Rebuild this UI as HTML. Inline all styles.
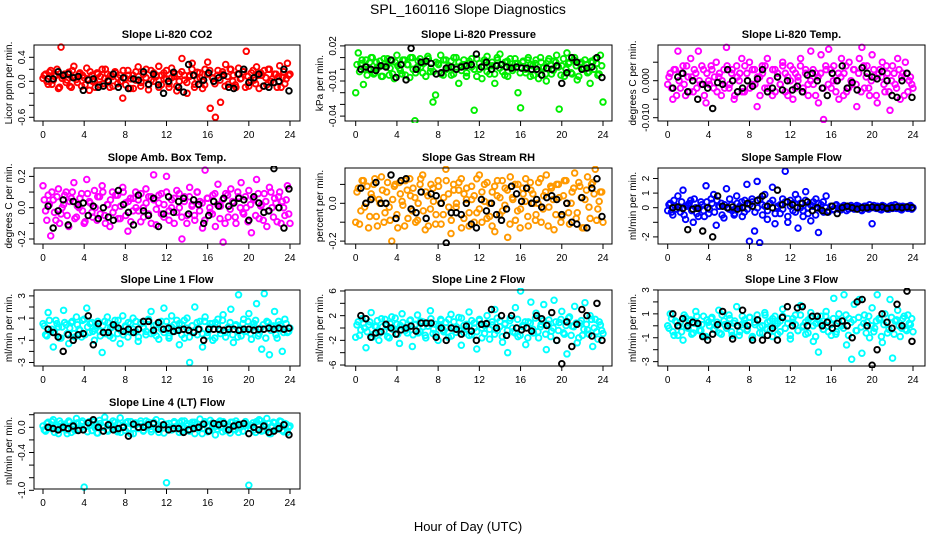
<!DOCTYPE html>
<html><head><meta charset="utf-8"><style>
html,body{margin:0;padding:0;background:#fff;}
svg{display:block;font-family:"Liberation Sans",Arial,sans-serif;}
</style></head><body>
<svg id="c" width="936" height="540" viewBox="0 0 936 540" xmlns="http://www.w3.org/2000/svg">
<text x="468" y="14" text-anchor="middle" font-size="14">SPL_160116  Slope Diagnostics</text>
<text x="468" y="531" text-anchor="middle" font-size="13">Hour of Day (UTC)</text>
</svg>
<script>
const xTicks=[0,4,8,12,16,20,24];
const co2Col=[0.05,0.12,-0.05,0.18,0.02,0.1,-0.12,0.57,0.08,-0.02,0.15,-0.1,0.25,0.03,0.12,-0.08,0.06,0.22,-0.15,0.1,0.0,0.14,-0.06,0.2,0.05,0.12,-0.1,0.08,0.16,-0.04,0.1,-0.28,0.05,0.18,-0.12,0.1,0.02,0.24,-0.08,0.12,0.06,-0.14,0.18,0.0,0.1,0.25,-0.06,0.14,0.04,-0.1,0.22,0.08,-0.16,0.12,0.38,0.02,-0.2,0.1,0.3,-0.05,0.15,0.06,-0.12,0.2,0.32,-0.45,0.05,-0.6,0.18,-0.35,0.12,0.28,-0.05,0.2,0.1,-0.1,0.22,0.05,0.16,0.5,-0.08,0.14,0.02,0.24,-0.12,0.1,0.18,-0.06,0.2,0.04,0.12,-0.1,0.26,0.06,-0.04,0.3,0.12];
const co2Core=[0.1,0.0,0.15,-0.05,0.08,0.2,-0.1,0.05,0.12,0.02,-0.08,0.18,0.06,-0.02,0.14,0.1,-0.06,0.04,0.16,0.0,-0.1,0.12,0.08,-0.04,0.2,0.02,0.1,-0.08,0.14,0.06,0.0,0.18,-0.06,0.1,0.04,-0.12,0.16,0.08,-0.02,0.12,0.2,-0.06,0.02,0.14,0.08,-0.1,0.1,0.04,0.18,-0.04,0.06,0.12,-0.08,0.0,0.16,0.1,-0.02,0.08,0.2,-0.1,0.04,0.14,0.0,-0.06,0.12,0.18,0.06,-0.04,0.1,0.02,0.16,-0.08,0.08,0.2,0.0,-0.06,0.12,0.04,0.16,-0.1,0.08,0.02,0.18,-0.04,0.1,0.14,-0.08,0.06,0.2,0.0,-0.02,0.12,0.08,-0.1,0.16,0.04,0.1];
const co2Blk=[0.04,0.04,0.16,0.1,0.12,0.06,0.08,-0.15,0.02,0.04,-0.1,-0.08,0.0,0.12,-0.1,0.06,-0.12,0.04,0.02,0.16,-0.05,0.12,-0.06,-0.2,0.0,0.15,-0.1,-0.18,0.28,0.1,-0.05,0.02,0.14,0.0,0.06,0.1,-0.1,-0.12,0.12,0.2,-0.02,0.06,0.12,-0.08,-0.1,-0.02,0.0,0.2,-0.16];
const presCol=[-0.02,0.014,0.005,-0.013,0.008,0.0,0.01,-0.004,0.006,0.002,-0.006,0.009,0.003,-0.005,0.007,-0.008,0.012,0.001,-0.004,0.008,0.004,-0.007,0.01,-0.044,0.002,0.009,-0.003,0.006,0.011,-0.002,-0.028,-0.022,0.005,0.012,-0.005,0.008,0.001,0.007,-0.004,0.01,-0.012,0.003,0.008,-0.006,0.005,0.002,-0.035,0.009,0.0,-0.008,0.006,0.011,-0.004,0.003,-0.012,0.008,0.013,-0.002,0.006,-0.006,0.009,0.001,0.005,-0.02,-0.033,0.007,-0.003,0.01,0.004,-0.005,0.008,-0.008,0.006,0.002,-0.01,0.009,-0.004,0.007,0.012,-0.034,0.003,-0.006,0.014,0.006,-0.004,0.01,-0.009,0.005,0.001,0.008,-0.003,-0.012,0.006,0.009,-0.005,0.012,-0.028];
const presCore=[0.004,-0.002,0.008,0.0,-0.005,0.006,0.01,-0.003,0.002,0.007,-0.006,0.005,0.009,0.001,-0.004,0.006,0.003,-0.001,0.008,-0.005,0.004,0.01,0.0,-0.003,0.007,0.002,0.005,-0.006,0.009,0.001,-0.002,0.006,0.004,-0.004,0.008,0.0,0.003,-0.005,0.01,0.002,0.006,-0.001,0.004,-0.003,0.007,0.009,0.0,-0.006,0.005,0.002,0.008,-0.002,0.003,0.006,-0.004,0.01,0.001,0.004,-0.005,0.007,0.002,-0.001,0.009,0.005,-0.003,0.006,0.0,0.008,-0.006,0.003,0.005,-0.002,0.01,0.001,-0.004,0.007,0.004,-0.001,0.006,0.002,-0.005,0.009,0.0,0.005,-0.003,0.008,0.003,-0.006,0.006,0.001,0.004,-0.002,0.007,0.0,0.005,-0.004,0.003];
const presBlk=[0.0,0.002,0.0,-0.001,0.003,0.002,0.008,-0.007,0.004,-0.009,0.018,0.0,0.006,0.007,0.005,-0.004,-0.003,0.001,0.002,0.0,0.002,0.003,0.004,0.013,0.002,0.006,0.0,0.003,0.004,0.002,0.001,0.002,0.001,0.001,0.0,0.0,-0.005,0.001,0.0,0.003,-0.012,-0.003,0.01,0.006,0.0,0.001,0.002,0.01,-0.007];
const tempCol=[-0.001,0.002,-0.005,0.003,0.008,-0.002,0.004,-0.004,0.001,0.006,-0.003,0.002,0.008,-0.001,0.003,-0.006,0.0,0.004,-0.002,0.005,0.001,-0.004,0.003,0.009,-0.002,0.002,-0.005,0.004,0.0,0.006,-0.003,0.002,0.005,-0.001,0.003,-0.007,0.001,0.004,-0.002,0.006,0.0,-0.004,0.003,0.002,-0.001,0.005,-0.003,0.001,0.004,-0.005,0.002,0.0,0.006,-0.002,0.003,-0.004,0.008,-0.001,0.002,-0.006,0.007,-0.0105,0.003,0.0085,-0.002,0.004,0.0,-0.005,0.006,0.002,-0.003,0.005,-0.001,0.003,-0.007,0.006,0.009,-0.002,0.004,-0.004,0.007,0.001,-0.006,0.003,0.005,-0.003,0.002,-0.008,0.004,-0.001,0.006,-0.005,0.002,0.005,-0.003,0.001,-0.002];
const tempCore=[0.001,-0.002,0.003,-0.004,0.0,0.002,-0.001,0.004,-0.003,0.001,0.003,-0.002,0.0,0.004,-0.004,0.002,-0.001,0.003,0.001,-0.003,0.002,0.0,-0.002,0.004,-0.001,0.003,-0.004,0.001,0.002,-0.003,0.004,0.0,-0.002,0.003,-0.001,0.001,-0.004,0.002,0.004,-0.002,0.0,0.003,-0.003,0.001,-0.001,0.004,0.002,-0.004,0.0,0.003,-0.002,0.001,0.004,-0.003,0.002,-0.001,0.0,0.003,-0.004,0.001,0.002,-0.002,0.004,-0.001,0.003,0.0,-0.003,0.002,0.001,-0.004,0.004,-0.002,0.0,0.003,-0.001,0.002,-0.003,0.004,0.001,-0.002,0.0,0.003,-0.004,0.002,0.001,-0.001,0.004,-0.003,0.0,0.002,-0.002,0.003,0.001,-0.004,0.002,0.0,-0.001];
const tempBlk=[-0.002,0.001,0.002,-0.003,0.0,-0.005,-0.001,-0.002,-0.0075,-0.0005,-0.001,0.003,0.0,-0.003,-0.002,0.0,-0.0015,0.0005,0.003,-0.003,-0.002,0.001,-0.0025,0.0,-0.0025,-0.0015,-0.003,0.0015,0.002,0.0,-0.002,-0.004,0.002,0.0,0.004,-0.002,-0.0005,-0.0025,0.0035,0.002,0.001,0.0005,0.0025,0.0,-0.004,-0.0045,0.0,0.002,-0.0045];
const boxCol=[0.14,-0.02,0.08,-0.18,0.05,-0.08,0.12,-0.04,0.02,0.1,-0.12,0.06,0.16,-0.06,0.0,0.09,-0.1,0.18,0.04,-0.03,0.11,-0.08,0.07,0.14,-0.05,0.02,-0.12,0.1,0.0,0.08,-0.07,0.13,0.03,-0.15,0.06,-0.02,0.1,0.05,-0.09,0.0,0.12,-0.04,0.07,0.21,-0.11,0.03,0.09,-0.06,0.2,-0.02,0.05,-0.1,0.11,0.0,-0.2,0.07,-0.05,0.13,0.02,-0.08,0.1,0.04,-0.13,0.24,0.06,-0.03,0.08,-0.12,0.15,0.01,-0.22,0.09,-0.06,0.12,0.03,-0.1,0.07,0.16,-0.04,0.0,0.11,-0.16,0.05,0.18,-0.07,0.02,0.09,-0.12,0.13,0.0,0.06,-0.09,0.1,0.04,-0.05,0.14,-0.1];
const boxCore=[0.05,-0.08,0.02,0.1,-0.03,0.07,-0.1,0.0,0.08,-0.05,0.04,0.1,-0.07,0.01,0.06,-0.02,-0.09,0.09,0.03,-0.06,0.0,0.07,-0.04,0.1,-0.1,0.02,0.05,-0.03,0.08,-0.07,0.01,0.1,-0.05,0.04,-0.09,0.06,0.0,-0.02,0.09,-0.06,0.03,0.07,-0.1,0.05,-0.01,0.08,-0.04,0.02,0.1,-0.08,0.0,0.06,-0.03,0.09,-0.06,0.04,-0.1,0.07,0.01,-0.05,0.1,-0.02,0.03,-0.08,0.06,0.0,-0.04,0.09,0.02,-0.07,0.05,-0.1,0.08,-0.01,0.04,-0.06,0.1,0.0,-0.03,0.07,-0.09,0.02,0.06,-0.05,0.09,0.01,-0.08,0.04,-0.02,0.1,-0.06,0.03,0.07,-0.1,0.0,0.05,-0.04];
const boxBlk=[0.01,-0.13,-0.02,0.05,-0.11,0.04,0.02,0.03,-0.05,0.01,-0.07,0.0,-0.06,-0.08,0.11,0.02,-0.03,-0.11,0.08,-0.02,-0.05,0.06,-0.12,-0.04,0.07,-0.03,0.04,0.06,-0.04,0.05,0.02,-0.1,-0.05,0.04,0.01,0.06,0.01,0.03,0.06,0.05,-0.08,0.07,0.03,-0.03,-0.02,0.25,0.0,-0.13,0.12];
const rhCol=[-0.1,0.08,-0.04,0.12,0.0,-0.13,0.05,0.1,-0.07,0.02,0.14,-0.1,0.06,-0.02,-0.2,0.09,-0.06,0.11,0.01,-0.12,0.07,0.13,-0.04,0.03,-0.09,0.1,0.15,-0.14,0.04,-0.03,0.08,-0.11,0.12,0.0,-0.06,0.18,0.05,-0.16,0.1,-0.02,0.07,0.13,-0.08,0.02,-0.12,0.09,0.04,-0.05,0.15,-0.1,0.01,0.11,-0.07,0.06,-0.15,0.12,0.03,-0.04,0.08,-0.18,0.14,0.02,-0.09,0.1,-0.03,0.05,0.13,-0.12,0.07,0.0,-0.06,0.11,-0.1,0.04,0.15,-0.02,0.08,-0.14,0.1,0.03,-0.07,0.12,0.0,-0.11,0.06,0.16,-0.05,0.09,-0.13,0.02,0.14,-0.08,0.11,0.18,-0.03,0.06,-0.1];
const rhCore=[0.06,-0.11,0.12,-0.02,0.09,-0.07,0.03,0.13,-0.12,0.0,0.07,-0.05,0.11,-0.09,0.02,0.1,-0.13,0.05,-0.01,0.12,-0.08,0.04,0.08,-0.1,0.0,0.13,-0.04,0.06,-0.12,0.1,0.01,-0.06,0.09,-0.11,0.03,0.12,-0.02,-0.09,0.07,0.0,0.11,-0.13,0.05,0.08,-0.05,0.02,-0.1,0.13,-0.03,0.06,0.1,-0.08,0.0,-0.12,0.09,0.04,-0.06,0.12,-0.01,0.07,-0.11,0.03,0.1,-0.04,-0.13,0.08,0.01,-0.07,0.11,0.05,-0.09,0.0,0.13,-0.03,0.06,-0.12,0.09,0.02,-0.06,0.1,-0.1,0.04,0.12,-0.05,0.0,0.08,-0.08,0.11,0.03,-0.13,0.07,-0.02,0.1,0.05,-0.09,0.01,0.06];
const rhBlk=[0.08,0.0,0.02,0.11,0.0,0.0,0.15,-0.08,0.12,0.13,-0.03,-0.05,0.06,-0.08,0.05,0.04,0.0,-0.21,-0.05,-0.05,-0.06,0.0,-0.11,-0.13,0.02,-0.04,0.0,-0.06,-0.09,-0.03,0.09,0.05,0.01,0.08,0.0,0.02,-0.02,0.03,0.04,0.02,-0.06,0.0,-0.1,-0.11,0.03,-0.13,0.08,0.13,-0.07];
const sampCol=[-0.2,0.3,-0.5,0.1,0.8,-0.3,1.2,-0.8,0.2,0.5,-1.0,0.0,-0.6,0.4,-0.2,1.5,-0.4,0.6,0.9,-1.2,0.1,0.3,-0.7,1.3,-0.1,0.2,-0.5,0.8,0.0,0.4,-0.3,1.6,-2.3,0.6,-1.6,1.8,-2.4,0.2,0.9,-0.8,0.3,1.4,-1.1,0.1,-0.4,0.6,2.5,-1.0,0.5,-0.2,0.9,-1.4,0.3,-0.6,1.1,0.0,-0.9,0.4,0.6,-1.7,0.2,-0.3,0.8,-0.2,0.1,-0.15,0.2,-0.1,0.05,0.15,-0.2,0.1,0.0,-0.1,0.15,0.05,-0.2,0.1,-0.05,0.2,-1.1,0.0,0.1,-0.1,0.15,0.0,-0.1,0.1,-0.05,0.2,0.0,-0.1,0.1,0.05,-0.05,0.15,0.0];
const sampCore=[0.2,-0.3,0.5,-0.1,0.0,0.4,-0.5,0.1,0.3,-0.2,0.6,-0.4,0.0,0.2,-0.6,0.4,-0.1,0.3,-0.3,0.5,0.1,-0.5,0.2,0.0,0.6,-0.2,-0.4,0.3,0.1,-0.6,0.5,-0.1,0.2,0.4,-0.3,0.0,0.6,-0.5,0.1,-0.2,0.3,0.5,-0.4,0.0,0.2,-0.1,0.4,-0.6,0.1,0.3,-0.3,0.6,0.0,-0.2,0.5,-0.4,0.2,0.1,-0.5,0.3,-0.1,0.4,0.0,-0.3,0.1,-0.1,0.15,0.0,-0.15,0.1,0.05,-0.1,0.15,-0.05,0.0,0.1,-0.15,0.05,0.1,-0.1,0.0,0.15,-0.05,0.05,-0.15,0.1,0.0,-0.1,0.15,0.05,-0.05,0.1,-0.15,0.0,0.05,0.1,-0.1];
const sampBlk=[0.0,0.05,-0.05,-1.5,-0.1,-0.05,-1.6,0.0,-2.0,0.8,0.1,0.0,0.05,-0.1,0.0,0.3,0.1,0.5,0.8,0.1,0.0,1.2,0.2,0.4,0.2,0.0,0.3,0.4,-0.2,0.0,-0.2,-0.3,0.1,-0.4,0.0,0.1,0.0,-0.1,0.0,0.0,0.05,0.0,0.05,-0.05,0.0,0.05,0.0,0.05,0.0];
const l1Col=[0.5,-0.5,1.5,-0.2,-1.6,0.8,0.2,-0.8,1.7,0.4,-1.3,0.6,-0.4,1.1,0.0,-0.7,0.9,1.9,-0.3,0.6,-1.0,0.3,-0.2,-2.1,0.7,1.1,-0.6,0.2,0.8,-0.4,-1.3,1.2,0.3,-0.7,0.5,1.0,-0.2,-1.1,0.6,0.2,-0.5,0.9,1.6,-0.3,0.4,-0.9,0.7,1.9,0.0,-0.6,1.2,-0.2,0.8,-1.4,0.4,-0.8,1.0,-3.0,0.3,2.0,-0.5,0.7,-1.6,1.1,-0.3,0.5,-1.0,0.6,0.9,-0.4,1.3,-0.7,0.2,1.8,-1.2,0.4,3.1,-0.6,0.9,-0.2,1.4,-0.9,0.5,2.3,-0.4,-1.8,3.2,0.7,-2.3,0.2,1.6,-0.8,0.4,-2.0,0.9,-0.3,0.1];
const l1Core=[0.3,-0.6,0.8,0.0,-0.3,0.5,-0.8,0.2,0.6,-0.4,0.1,0.7,-0.7,0.4,-0.1,0.8,-0.5,0.2,0.5,-0.2,0.0,0.7,-0.6,0.3,-0.4,0.6,0.1,-0.8,0.4,0.8,-0.1,-0.5,0.2,0.6,-0.3,0.0,0.7,-0.7,0.5,0.1,-0.2,0.8,-0.4,0.3,-0.6,0.6,0.0,-0.3,0.7,-0.8,0.2,0.4,-0.1,0.5,-0.5,0.8,0.1,-0.7,0.3,-0.2,0.6,0.0,-0.4,0.7,-0.6,0.2,0.5,-0.8,0.4,-0.1,0.8,-0.3,0.1,0.6,-0.5,0.3,-0.7,0.0,0.5,-0.2,0.7,-0.4,0.2,0.8,-0.6,0.1,0.4,-0.8,0.6,-0.1,0.3,-0.5,0.7,0.0,-0.3,0.5,-0.2];
const l1Blk=[0.0,-0.3,-0.7,-2.0,-0.5,-1.0,-0.5,-0.4,1.2,-1.4,0.5,-0.3,-0.3,0.4,0.1,-0.2,0.0,-0.3,0.0,0.7,0.7,-0.1,0.6,0.0,0.1,-0.2,-0.1,0.0,-0.1,-0.3,0.0,-1.0,0.0,0.0,0.0,-0.1,0.0,0.0,-0.1,0.0,0.0,-0.1,0.0,0.0,0.1,0.0,0.1,0.0,0.1];
const l2Col=[-1.5,1.0,-0.3,0.8,-3.2,0.5,2.5,-1.0,0.2,-2.0,1.5,-0.5,0.4,-1.6,1.8,-0.2,0.6,-2.5,2.3,0.0,-0.8,1.2,-3.0,0.5,2.1,-0.6,1.0,-1.2,0.3,2.8,-0.9,0.6,-2.0,1.4,-0.3,0.9,-1.5,2.2,0.1,-0.7,1.7,-2.8,0.4,-0.2,2.6,-1.1,0.8,-3.4,1.2,0.0,-0.9,2.0,-1.8,0.5,3.0,-0.4,1.1,-2.3,0.7,-4.0,1.6,-0.6,3.3,-1.4,6.0,0.2,-2.7,1.0,4.2,-0.8,2.4,-1.6,0.6,3.8,-3.5,1.3,-0.5,4.5,-2.0,0.9,2.7,-1.0,-4.2,1.8,0.3,3.5,-2.4,0.8,-1.2,4.1,-0.3,2.0,-3.0,1.4,-1.8,0.5,-0.9];
const l2Core=[0.5,-1.2,1.5,0.0,-0.6,1.0,-1.5,0.3,1.2,-0.8,0.2,1.4,-1.4,0.7,-0.2,1.6,-1.0,0.4,0.9,-0.4,0.0,1.3,-1.1,0.6,-0.8,1.1,0.2,-1.6,0.8,1.5,-0.2,-1.0,0.4,1.2,-0.6,0.0,1.4,-1.3,1.0,0.2,-0.4,1.6,-0.8,0.6,-1.2,1.2,0.0,-0.6,1.4,-1.6,0.4,0.8,-0.2,1.0,-1.0,1.6,0.2,-1.4,0.6,-0.4,1.2,0.0,-0.8,1.4,-1.2,0.4,1.0,-1.6,0.8,-0.2,1.6,-0.6,0.2,1.2,-1.0,0.6,-1.4,0.0,1.0,-0.4,1.4,-0.8,0.4,1.6,-1.2,0.2,0.8,-1.6,1.2,-0.2,0.6,-1.0,1.4,0.0,-0.6,1.0,-0.4];
const l2Blk=[2.0,1.5,-1.5,-0.8,-0.6,0.6,0.0,-1.0,-0.3,0.0,0.3,-0.5,0.8,0.8,0.8,-1.5,0.0,-2.0,0.0,-0.2,-1.0,0.3,-0.5,-2.0,0.6,0.7,3.0,0.0,2.0,-1.2,2.0,0.0,-0.3,0.0,-0.5,2.0,1.5,0.4,2.5,-2.0,-5.8,1.0,-3.0,0.6,3.0,2.0,-1.3,4.0,-2.0];
const l3Col=[0.0,1.0,-0.5,0.4,-0.8,0.3,-1.2,0.7,-0.2,0.5,-0.6,1.2,0.1,-0.4,0.8,-0.9,0.3,0.6,-0.3,0.0,1.3,-0.7,0.4,-0.2,0.9,-0.5,0.2,1.6,-0.8,0.1,0.5,-0.4,0.7,-1.0,0.3,0.9,-0.6,0.0,1.1,-0.3,0.4,-0.9,0.8,0.2,-0.5,1.4,-0.2,0.6,-1.1,0.3,0.9,-0.4,1.7,0.0,-0.7,0.5,1.1,-1.3,0.2,-2.2,0.8,-0.3,1.2,0.4,-0.8,2.3,-0.5,1.0,0.0,2.6,-1.6,0.6,-2.8,1.8,-0.4,2.2,-2.3,0.9,0.3,-1.0,1.5,-0.2,2.6,0.5,-1.4,1.0,-0.6,2.2,-2.7,0.4,1.3,-0.9,0.6,-0.3,0.9,0.1,-0.5];
const l3Core=[-0.2,0.6,-0.8,0.3,0.0,-0.5,0.9,-0.1,0.4,-0.7,0.2,0.8,-0.4,0.1,-0.9,0.5,0.0,0.7,-0.3,0.3,-0.6,0.9,0.1,-0.2,0.6,-0.8,0.4,0.0,-0.5,0.8,0.2,-0.3,0.7,-0.9,0.1,0.5,-0.1,-0.6,0.9,0.3,-0.4,0.6,0.0,-0.7,0.4,0.8,-0.2,0.2,-0.8,0.6,0.1,-0.4,0.9,-0.1,0.3,-0.6,0.7,0.0,-0.9,0.5,0.2,-0.3,0.8,-0.5,0.1,0.6,-0.7,0.4,0.0,-0.2,0.9,-0.8,0.3,0.5,-0.4,0.7,-0.1,0.2,-0.6,0.8,0.0,-0.5,0.4,0.6,-0.9,0.1,0.3,-0.3,0.7,-0.7,0.5,0.0,-0.2,0.8,-0.4,0.2,0.6];
const l3Blk=[1.0,0.0,0.6,0.0,0.3,0.2,-0.9,-1.2,-0.7,0.1,1.2,0.0,-1.1,0.0,1.3,0.0,-1.2,0.5,-1.2,-0.8,-0.2,-1.2,0.7,1.6,0.0,1.5,1.6,0.0,0.8,0.8,0.0,0.3,-0.2,0.2,0.4,0.0,-1.0,2.0,2.2,0.0,-3.3,-2.0,1.0,0.3,-0.2,1.8,0.0,2.9,-1.3];
const l4Col=[0.02,-0.06,0.08,-0.02,0.12,0.0,-0.1,0.06,0.03,-0.04,0.1,-0.08,0.05,0.14,-0.03,0.07,-0.95,0.02,0.09,-0.05,0.04,-0.09,0.11,0.01,0.16,-0.04,0.06,0.0,0.08,-0.07,0.15,0.03,-0.05,0.09,-0.1,0.04,0.07,-0.02,0.1,-0.06,0.02,0.08,-0.03,0.05,0.12,-0.08,0.03,-0.01,-0.88,0.06,-0.04,0.09,0.0,0.07,-0.06,0.1,0.02,-0.03,0.08,-0.1,0.05,0.13,-0.02,0.06,-0.07,0.11,0.03,-0.12,0.07,0.0,0.09,-0.05,0.04,0.08,-0.03,0.1,-0.08,0.05,0.02,0.06,-0.92,0.03,-0.04,0.09,0.12,-0.06,0.05,0.14,-0.1,0.02,0.07,-0.03,0.1,-0.05,0.06,-0.08,0.02];
const l4Core=[-0.04,0.06,0.0,0.09,-0.08,0.03,0.1,-0.02,0.05,-0.1,0.08,0.01,-0.05,0.07,-0.03,0.1,0.02,-0.07,0.04,0.09,-0.01,-0.09,0.06,0.0,0.08,-0.06,0.03,0.1,-0.04,0.05,-0.08,0.02,0.07,-0.02,0.09,-0.1,0.04,0.0,0.06,-0.05,0.1,0.01,-0.07,0.08,-0.03,0.03,0.09,-0.09,0.05,0.0,-0.04,0.07,0.02,-0.08,0.1,-0.01,0.06,-0.06,0.04,0.08,-0.02,0.0,-0.1,0.09,0.03,-0.05,0.07,0.01,-0.03,0.1,-0.07,0.05,0.02,-0.09,0.08,-0.04,0.06,0.0,-0.06,0.09,0.03,-0.02,0.07,-0.08,0.04,0.1,-0.05,0.01,0.06,-0.1,0.08,-0.03,0.02,0.09,-0.07,0.05,0.0];
const l4Blk=[0.0,-0.02,-0.04,0.0,-0.02,0.02,-0.05,-0.04,0.07,0.12,0.0,-0.06,0.04,-0.04,-0.02,0.0,-0.14,0.05,0.0,0.0,0.04,0.06,-0.03,0.04,-0.04,-0.02,-0.02,-0.08,-0.04,-0.02,0.0,0.05,-0.06,0.06,0.04,0.06,-0.04,0.02,0.04,0.06,-0.1,0.0,-0.04,0.02,-0.08,-0.06,-0.02,0.04,-0.12];

const co2Ticks=[-0.6,-0.4,-0.2,0,0.2,0.4], co2Labels=["-0.6","","","0.0","","0.4"];
const presTicks=[-0.04,-0.03,-0.02,-0.01,0,0.01,0.02], presLabels=["-0.04","","","-0.01","","","0.02"];
const tempTicks=[-0.01,-0.005,0,0.005], tempLabels=["-0.010","","0.000",""];
const boxTicks=[-0.2,-0.1,0,0.1,0.2], boxLabels=["-0.2","","0.0","","0.2"];
const rhTicks=[-0.2,-0.1,0,0.1], rhLabels=["-0.2","","0.0",""];
const sampTicks=[-2,-1,0,1,2], sampLabels=["-2","","0","1","2"];
const l1Ticks=[-3,-2,-1,0,1,2,3], l1Labels=["-3","","-1","","1","","3"];
const l2Ticks=[-6,-4,-2,0,2,4,6], l2Labels=["-6","","-2","","2","","6"];
const l3Ticks=[-3,-2,-1,0,1,2,3], l3Labels=["-3","","-1","","1","","3"];
const l4Ticks=[-1.0,-0.8,-0.6,-0.4,-0.2,0,0.2], l4Labels=["-1.0","","","-0.4","","0.0",""];

const NS="http://www.w3.org/2000/svg";
const svg=document.getElementById('c');
function mk(tag,at,parent){const e=document.createElementNS(NS,tag);for(const k in at)e.setAttribute(k,at[k]);(parent||svg).appendChild(e);return e;}
const cols=[{l:34,r:300,x0:43,x24:290},{l:345,r:612,x0:355.7,x24:603},{l:658,r:925,x0:667.7,x24:913}];
const rows=[{t:45,b:121},{t:168,b:244},{t:290,b:366},{t:413,b:489}];
const panels=[
 {name:'co2',title:'Slope Li-820 CO2',ylab:'Licor ppm per min.',c:0,r:0,y0:81.3,k:60,col:'#ff0000',d:co2Col,d2:co2Core,bk:co2Blk,tk:co2Ticks,tl:co2Labels},
 {name:'pressure',title:'Slope Li-820 Pressure',ylab:'kPa per min.',c:1,r:0,y0:69.3,k:1170,col:'#00ee00',d:presCol,d2:presCore,bk:presBlk,tk:presTicks,tl:presLabels},
 {name:'temp',title:'Slope Li-820 Temp.',ylab:'degrees C per min.',c:2,r:0,y0:80.7,k:3700,col:'#ff00ff',d:tempCol,d2:tempCore,bk:tempBlk,tk:tempTicks,tl:tempLabels},
 {name:'amb-box-temp',title:'Slope Amb. Box Temp.',ylab:'degrees C per min.',c:0,r:1,y0:207.7,k:156.5,col:'#ff00ff',d:boxCol,d2:boxCore,bk:boxBlk,tk:boxTicks,tl:boxLabels},
 {name:'gas-stream-rh',title:'Slope Gas Stream RH',ylab:'percent per min.',c:1,r:1,y0:203.3,k:189,col:'#ff9900',d:rhCol,d2:rhCore,bk:rhBlk,tk:rhTicks,tl:rhLabels},
 {name:'sample-flow',title:'Slope Sample Flow',ylab:'ml/min per min.',c:2,r:1,y0:207.7,k:14.6,col:'#0000ff',d:sampCol,d2:sampCore,bk:sampBlk,tk:sampTicks,tl:sampLabels},
 {name:'line1-flow',title:'Slope Line 1 Flow',ylab:'ml/min per min.',c:0,r:2,y0:329.2,k:11.1,col:'#00ffff',d:l1Col,d2:l1Core,bk:l1Blk,tk:l1Ticks,tl:l1Labels},
 {name:'line2-flow',title:'Slope Line 2 Flow',ylab:'ml/min per min.',c:1,r:2,y0:328,k:6.17,col:'#00ffff',d:l2Col,d2:l2Core,bk:l2Blk,tk:l2Ticks,tl:l2Labels},
 {name:'line3-flow',title:'Slope Line 3 Flow',ylab:'ml/min per min.',c:2,r:2,y0:325.8,k:11.95,col:'#00ffff',d:l3Col,d2:l3Core,bk:l3Blk,tk:l3Ticks,tl:l3Labels},
 {name:'line4-flow',title:'Slope Line 4 (LT) Flow',ylab:'ml/min per min.',c:0,r:3,y0:427.3,k:63,col:'#00ffff',d:l4Col,d2:l4Core,bk:l4Blk,tk:l4Ticks,tl:l4Labels}
];
panels.forEach(p=>{
  const C=cols[p.c],R=rows[p.r];
  const g=mk('g',{});
  
  
  const xs=h=>C.x0+(C.x24-C.x0)*h/24;
  const ys=v=>p.y0-v*p.k;
  const t=mk('text',{x:(C.l+C.r)/2,y:R.t-7,'text-anchor':'middle','font-size':11,'font-weight':'bold'},g);
  t.textContent=p.title;
  
  
  const yl=mk('text',{x:0,y:0,'text-anchor':'middle','font-size':10,transform:`translate(${C.l-22},${(R.t+R.b)/2}) rotate(-90)`},g);
  yl.textContent=p.ylab;
  
  
  const clip=mk('clipPath',{id:'cl'+p.name},g);
  mk('rect',{x:C.l,y:R.t-2,width:C.r-C.l,height:R.b-R.t+4},clip);
  const pts=mk('g',{'clip-path':`url(#cl${p.name})`,fill:'none','stroke-width':1.9},g);
  const n=p.d.length;
  p.d.forEach((v,i)=>{
    const c=mk('circle',{cx:xs(i*24/(n-1)),cy:ys(v),r:2.8,stroke:p.col},pts);
    
    
  });
  const n2=p.d2.length;
  p.d2.forEach((v,i)=>{
    const c=mk('circle',{cx:xs((i+0.5)*24/n2),cy:ys(v),r:2.8,stroke:p.col},pts);
    
    
  });
  const m=p.bk.length;
  p.bk.forEach((v,i)=>{
    const c=mk('circle',{cx:xs(0.5+i*23.4/(m-1)),cy:ys(v),r:2.8,stroke:'#000'},pts);
    
    
  });
  const bx=mk('rect',{x:C.l,y:R.t,width:C.r-C.l,height:R.b-R.t,fill:'none',stroke:'#000','stroke-width':1},g);
  
  
  xTicks.forEach(h=>{
    mk('line',{x1:xs(h),x2:xs(h),y1:R.b,y2:R.b+5,stroke:'#000'},g);
    const tl=mk('text',{x:xs(h),y:R.b+17,'text-anchor':'middle','font-size':10},g);
    tl.textContent=h;
    
    
  });
  p.tk.forEach((v,i)=>{
    mk('line',{x1:C.l-5,x2:C.l,y1:ys(v),y2:ys(v),stroke:'#000'},g);
    if(p.tl[i]){
      const tl=mk('text',{x:0,y:0,'text-anchor':'middle','font-size':10,transform:`translate(${C.l-9},${ys(v)}) rotate(-90)`},g);
      tl.textContent=p.tl[i];
      
      
    }
  });
});
</script>
</body></html>
